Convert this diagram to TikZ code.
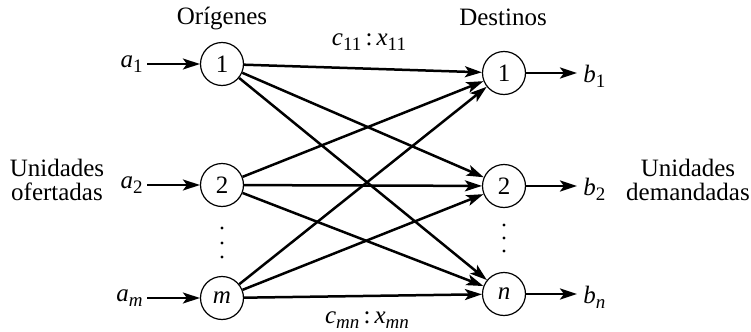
\documentclass[tikz,border=0pt]{standalone}
\usepackage{fontspec}
\setmainfont{Liberation Serif}
\usetikzlibrary{arrows.meta}
\newcommand{\vsub}[2]{\textit{#1}\raisebox{-0.45ex}{\fontsize{9.5}{10}\selectfont #2}}
\begin{document}
\begin{tikzpicture}[x=0.5pt,y=-0.5pt,
  every node/.style={font=\fontsize{12.5}{14}\selectfont},
  nd/.style={draw,circle,line width=0.6pt,minimum size=21.5pt,inner sep=0pt},
  arr/.style={line width=1.25pt,-{Stealth[length=8.5pt,width=5.5pt,inset=2pt]}},
  lbl/.style={inner sep=0pt},
  dot/.style={fill,circle,inner sep=0pt,minimum size=1.6pt}]
\useasboundingbox (0,0) rectangle (751,332);
% origins
\node[nd] (o1) at (222,64) {1};
\node[nd] (o2) at (222,185) {2};
\node[nd] (om) at (222,298) {\textit{m}};
% destinations
\node[nd] (d1) at (504,73) {1};
\node[nd] (d2) at (504,186) {2};
\node[nd] (dn) at (504,294) {\textit{n}};
% headers
\node (ho) at (222,19) {Orígenes};
\node (hd) at (503,17) {Destinos};
% supply labels
\node[lbl,anchor=east] (a1) at (143,64) {\vsub{a}{1}};
\node[lbl,anchor=east] (a2) at (143,185) {\vsub{a}{2}};
\node[lbl,anchor=east] (am) at (143,298) {\vsub{a}{\textit{m}}};
% demand labels
\node[lbl,anchor=west] (b1) at (583,76) {\vsub{b}{1}};
\node[lbl,anchor=west] (b2) at (583,189) {\vsub{b}{2}};
\node[lbl,anchor=west] (bn) at (583,297) {\vsub{b}{\textit{n}}};
% side texts
\node[align=center,lbl] (uo) at (57,180) {Unidades\\[-2pt]ofertadas};
\node[align=center,lbl] (ud) at (688,180) {Unidades\\[-2pt]demandadas};
% cost labels
\node (c11) at (369,42) {\vsub{c}{11}\,:\,\vsub{x}{11}};
\node (cmn) at (367,320) {\vsub{c}{\textit{mn}}\,:\,\vsub{x}{\textit{mn}}};
% dots
\node[dot] (p1) at (222,228) {};
\node[dot] (p2) at (222,243) {};
\node[dot] (p3) at (222,257) {};
\node[dot] (q1) at (504,225) {};
\node[dot] (q2) at (504,238) {};
\node[dot] (q3) at (504,251) {};
% input/output arrows
\draw[arr] (a1.east) ++(4,0) coordinate (a1s) -- (o1);
\draw[arr] (a2.east) ++(4,0) coordinate (a2s) -- (o2);
\draw[arr] (am.east) ++(4,0) coordinate (ams) -- (om);
\coordinate (b1e) at (577,73);
\coordinate (b2e) at (577,186);
\coordinate (bne) at (577,294);
\draw[arr] (d1) -- (b1e);
\draw[arr] (d2) -- (b2e);
\draw[arr] (dn) -- (bne);
% transport arcs
\foreach \o in {o1,o2,om}{
  \foreach \d in {d1,d2,dn}{
    \draw[arr] (\o) -- (\d);
  }
}
\end{tikzpicture}
\end{document}
